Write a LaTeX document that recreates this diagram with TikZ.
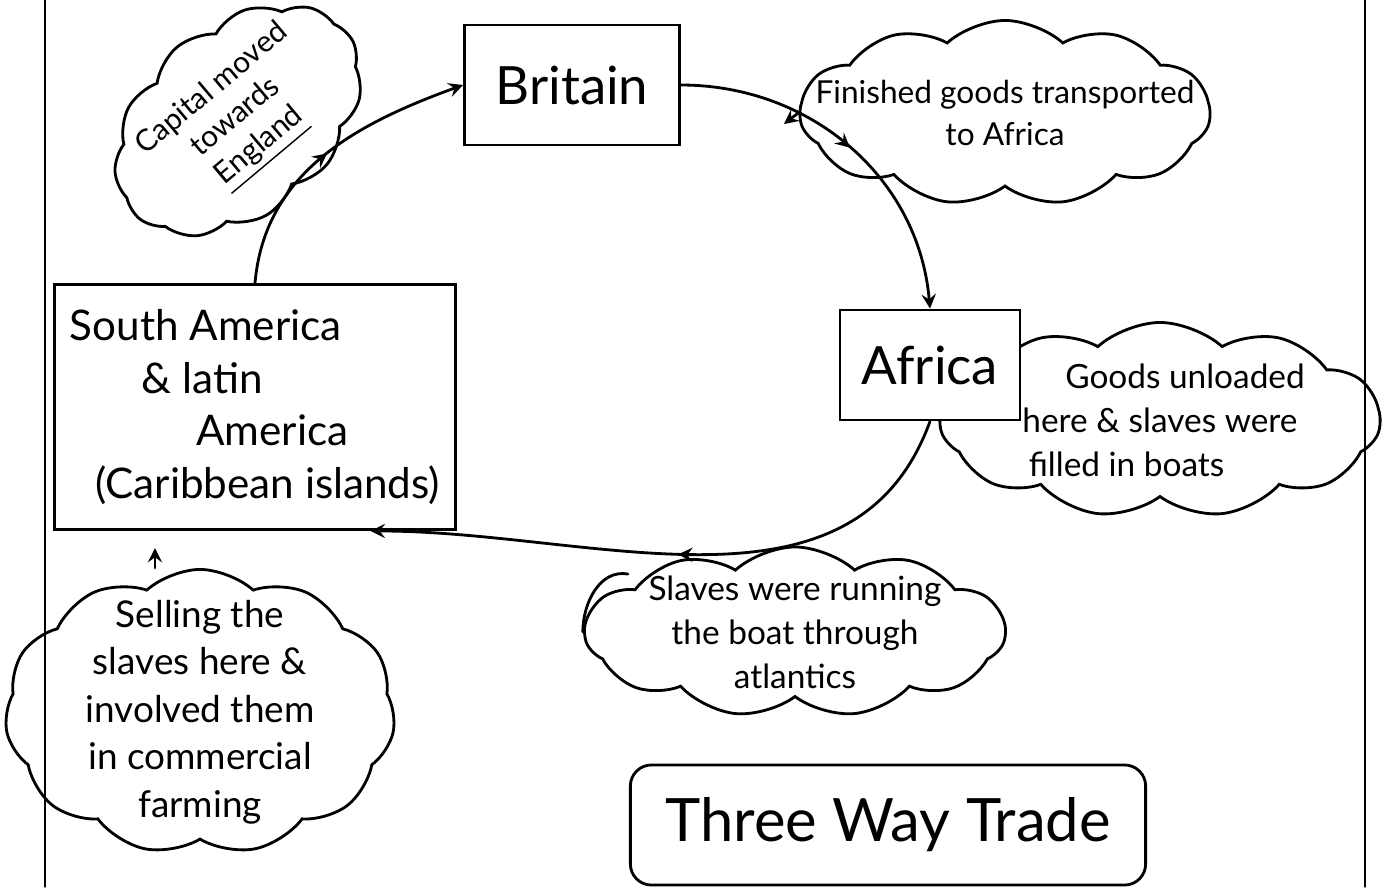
\documentclass[tikz,border=0pt]{standalone}
\usepackage{fontspec}
\setmainfont{Lato}
\usetikzlibrary{arrows,shapes.symbols,decorations.markings}
\tikzset{
  place_/.style    = {shape=rectangle, draw, thick, fill=white, align=center, font=\fontsize{15}{18}\selectfont},
  note_/.style     = {shape=cloud, draw, thick, cloud puffs=11, cloud puff arc=85, inner sep=0pt},
  noteText_/.style = {align=center, inner sep=0pt, font=\fontsize{10}{12.5}\selectfont},
  flow_/.style     = {draw, thick, -stealth, postaction=decorate,
                      decoration={markings, mark=at position 0.5 with {\arrow{stealth}}}},
  hint_/.style     = {draw, thick, -stealth}
}
\begin{document}
\begin{tikzpicture}[x=0.01cm, y=-0.01cm, line cap=round]
	\useasboundingbox (0,0) rectangle (1390,887);
	% page margins
	\draw (45,0) -- (45,887);
	\draw (1365,0) -- (1365,887);

	% notes
	\node [note_, rotate=40, minimum width=2.8cm, minimum height=1.9cm] (capital) at (238,120) {};
	\node [noteText_, rotate=40, font=\fontsize{8.5}{10.5}\selectfont] (capitalText) at (capital) {Capital moved\\towards\\\underline{England}};
	\node [note_, minimum width=4.1cm, minimum height=1.85cm] (finished) at (1005,113) {};
	\node [noteText_, font=\fontsize{9}{12}\selectfont] (finishedText) at (finished) {Finished goods transported\\to Africa};
	\node [note_, minimum width=4.4cm, minimum height=1.95cm] (unloaded) at (1160,420) {};
	\node [noteText_, font=\fontsize{9.5}{12.5}\selectfont] (unloadedText) at (unloaded) {\hspace*{1.5em}Goods unloaded\\here \& slaves were\\filled in boats\hspace*{2em}};
	\node [note_, minimum width=4.2cm, minimum height=1.7cm] (slaves) at (795,632) {};
	\node [noteText_, font=\fontsize{9.5}{12.5}\selectfont] (slavesText) at (slaves) {Slaves were running\\the boat through\\atlantics};
	\node [note_, minimum width=3.9cm, minimum height=2.85cm] (selling) at (200,712) {};
	\node [noteText_, font=\fontsize{10.5}{13.5}\selectfont] (sellingText) at (selling) {Selling the\\slaves here \&\\involved them\\in commercial\\farming};

	% the three places
	\node [place_, minimum width=2.15cm, minimum height=1.2cm] (britain) at (572,85) {Britain};
	\node [place_, minimum width=1.8cm, minimum height=1.1cm] (africa) at (930,365) {Africa};
	\node [place_, align=left, minimum width=4cm, minimum height=2.45cm, font=\fontsize{12}{15}\selectfont] (america) at (255,407)
		{South America\\\hspace*{1.7em}\& latin\\\hspace*{3em}America\\\hspace*{0.6em}(Caribbean islands)};
	\node [place_, rounded corners=6pt, minimum width=5.15cm, minimum height=1.2cm, font=\fontsize{17}{20}\selectfont] (title) at (888,825) {Three Way Trade};

	% trade route
	\draw [flow_] (britain.east) to [out=0, in=95] (africa.north);
	\draw [flow_] (africa.south) to [out=-110, in=0] (america.-47);
	\draw [flow_] (america.north) to [out=85, in=200] (britain.west);

	% pointers from the notes
	\coordinate (finTip) at (784,124);
	\coordinate (sellTip) at (155,548);
	\coordinate (hookTip) at (628,574);
	\draw [hint_] (finished.west) -- (finTip);
	\draw [hint_] (selling.north -| sellTip) -- (sellTip);
	\draw [thick] (slaves.west) to [out=90, in=170] (hookTip);
\end{tikzpicture}
\end{document}
